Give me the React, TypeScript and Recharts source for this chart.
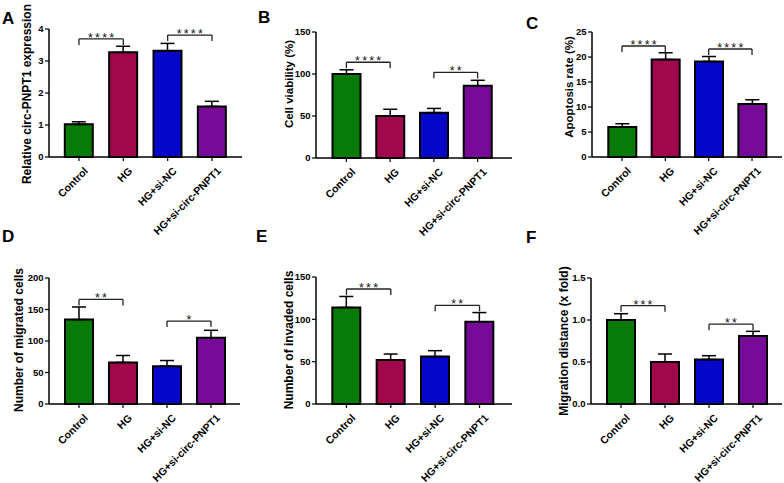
import React from 'react';
import { BarChart, Bar, XAxis, YAxis, ErrorBar, ReferenceLine, Cell } from 'recharts';

const groups = ['Control', 'HG', 'HG+si-NC', 'HG+si-circ-PNPT1'];
const barColors = ['#077a07', '#a1074b', '#0707c9', '#770a96'];

const expressionValues = [1.02, 3.27, 3.32, 1.58];
const expressionErrors = [0.08, 0.19, 0.23, 0.16];
const expressionTicks = [0, 1, 2, 3, 4];

const viabilityValues = [100, 50, 54, 86];
const viabilityErrors = [5, 8, 5, 6.5];
const viabilityTicks = [0, 50, 100, 150];

const apoptosisValues = [6.0, 19.5, 19.1, 10.6];
const apoptosisErrors = [0.65, 1.35, 1.0, 0.85];
const apoptosisTicks = [0, 5, 10, 15, 20, 25];

const migratedValues = [134, 66, 60, 105];
const migratedErrors = [20, 11, 9, 12];
const migratedTicks = [0, 50, 100, 150, 200];

const invadedValues = [114, 52, 56, 97];
const invadedErrors = [13, 7, 7, 11];
const invadedTicks = [0, 50, 100, 150];

const distanceValues = [1.0, 0.5, 0.53, 0.81];
const distanceErrors = [0.075, 0.095, 0.045, 0.055];
const distanceTicks = [0, 0.5, 1.0, 1.5];

const expressionBrackets = [
  { from: 'Control', to: 'HG', y: 3.69, stars: '****' },
  { from: 'HG+si-NC', to: 'HG+si-circ-PNPT1', y: 3.81, stars: '****' },
];
const viabilityBrackets = [
  { from: 'Control', to: 'HG', y: 114, stars: '****' },
  { from: 'HG+si-NC', to: 'HG+si-circ-PNPT1', y: 102, stars: '**' },
];
const apoptosisBrackets = [
  { from: 'Control', to: 'HG', y: 22.2, stars: '****' },
  { from: 'HG+si-NC', to: 'HG+si-circ-PNPT1', y: 21.6, stars: '****' },
];
const migratedBrackets = [
  { from: 'Control', to: 'HG', y: 166, stars: '**' },
  { from: 'HG+si-NC', to: 'HG+si-circ-PNPT1', y: 131.6, stars: '*' },
];
const invadedBrackets = [
  { from: 'Control', to: 'HG', y: 135.8, stars: '***' },
  { from: 'HG+si-NC', to: 'HG+si-circ-PNPT1', y: 116.5, stars: '**' },
];
const distanceBrackets = [
  { from: 'Control', to: 'HG', y: 1.17, stars: '***' },
  { from: 'HG+si-NC', to: 'HG+si-circ-PNPT1', y: 0.95, stars: '**' },
];

const FONT = '"Liberation Sans", Arial, Helvetica, sans-serif';

type Layout = {
  x0: number; y0: number; w: number; h: number;
  axisX: number; top: number; bottom: number; right: number;
  lp: number; rp: number;
  labelX: number; labelY: number; labelSize: number;
  letter: string; letterX: number; letterY: number;
};

const layouts: Layout[] = [
  { x0: 0, y0: 0, w: 262, h: 240, axisX: 49, top: 29, bottom: 157, right: 242, lp: 7.8, rp: 7.8, labelX: 27, labelY: 94, labelSize: 12, letter: 'A', letterX: 2, letterY: 10 },
  { x0: 262, y0: 0, w: 262, h: 240, axisX: 316, top: 32, bottom: 158, right: 512, lp: 8.5, rp: 12.5, labelX: 289, labelY: 84, labelSize: 11.5, letter: 'B', letterX: 258, letterY: 9 },
  { x0: 524, y0: 0, w: 260, h: 240, axisX: 592, top: 32, bottom: 157, right: 782, lp: 8.3, rp: 8.3, labelX: 569, labelY: 87, labelSize: 11.5, letter: 'C', letterX: 526, letterY: 15 },
  { x0: 0, y0: 240, w: 262, h: 243, axisX: 49, top: 278, bottom: 404, right: 240, lp: 8, rp: 7, labelX: 19, labelY: 340, labelSize: 12, letter: 'D', letterX: 2, letterY: 228 },
  { x0: 262, y0: 240, w: 262, h: 243, axisX: 316, top: 277, bottom: 404, right: 512, lp: 8.3, rp: 10.3, labelX: 289, labelY: 340, labelSize: 12, letter: 'E', letterX: 256, letterY: 228 },
  { x0: 524, y0: 240, w: 260, h: 243, axisX: 591, top: 278, bottom: 404, right: 782, lp: 8, rp: 7, labelX: 564, labelY: 341, labelSize: 12, letter: 'F', letterX: 526, letterY: 229 },
];

const XTick = (props: any) => {
  const { x, y, payload } = props;
  const tx = x + 4;
  const ty = y + 3;
  return (
    <text
      x={tx}
      y={ty}
      transform={`rotate(-45 ${tx} ${ty})`}
      textAnchor="end"
      dominantBaseline="hanging"
      fontSize={10.5}
      fontWeight="bold"
      fontFamily={FONT}
      fill="#000"
    >
      {payload.value}
    </text>
  );
};

type PanelProps = {
  layout: Layout;
  values: number[];
  errors: number[];
  ticks: number[];
  brackets: { from: string; to: string; y: number; stars: string }[];
  yLabel: string;
  decimals: number;
};

function Panel({ layout, values, errors, ticks, brackets, yLabel, decimals }: PanelProps) {
  const data = groups.map((g, i) => ({ name: g, value: values[i], err: [0, errors[i]] }));
  const L = layout;
  const plotTop = L.top - L.y0;
  const plotBottom = L.bottom - L.y0;
  const yw = L.axisX - L.x0;
  const rightMargin = L.x0 + L.w - L.right;
  const xh = L.h - plotBottom;
  const yMax = ticks[ticks.length - 1];
  const drop = (yMax * 6) / (plotBottom - plotTop);
  const lx = L.labelX - L.x0;
  const ly = L.labelY - L.y0;

  const starLabel = (stars: string) => (p: any) => {
    const vb = p.viewBox || {};
    const cx = (vb.x || 0) + (vb.width || 0) / 2;
    const cy = vb.y || 0;
    return (
      <text x={cx + 1} y={cy + 3} textAnchor="middle" fontSize={12.5} fontFamily={FONT} letterSpacing={2.2} fill="#111" stroke="none">
        {stars}
      </text>
    );
  };

  return (
    <div style={{ position: 'absolute', left: L.x0, top: L.y0, width: L.w, height: L.h }}>
      <BarChart
        width={L.w}
        height={L.h}
        data={data}
        margin={{ top: plotTop, right: rightMargin, bottom: 0, left: 0 }}
        barSize={28}
        style={{ overflow: 'visible' }}
      >
        <XAxis
          dataKey="name"
          height={xh}
          padding={{ left: L.lp, right: L.rp }}
          axisLine={{ stroke: '#000', strokeWidth: 1.5 }}
          tickLine={{ stroke: '#000', strokeWidth: 1.2 }}
          tickSize={4}
          interval={0}
          tick={<XTick />}
        />
        <YAxis
          width={yw}
          domain={[0, yMax]}
          ticks={ticks}
          interval={0}
          axisLine={{ stroke: '#000', strokeWidth: 1.5 }}
          tickLine={{ stroke: '#000', strokeWidth: 1.2 }}
          tickSize={4}
          tickMargin={1.5}
          tickFormatter={(v: number) => v.toFixed(decimals)}
          tick={{ fontSize: 9.5, fontWeight: 'bold', fontFamily: FONT, fill: '#000' }}
          label={{
            content: () => (
              <text
                x={lx}
                y={ly}
                transform={`rotate(-90 ${lx} ${ly})`}
                textAnchor="middle"
                dominantBaseline="central"
                fontSize={L.labelSize}
                fontWeight="bold"
                fontFamily={FONT}
                fill="#000"
              >
                {yLabel}
              </text>
            ),
          }}
        />
        <Bar dataKey="value" isAnimationActive={false} stroke="#000" strokeWidth={2}>
          {data.map((d, i) => (
            <Cell key={d.name} fill={barColors[i]} />
          ))}
          <ErrorBar dataKey="err" width={7} stroke="#000" strokeWidth={1.5} direction="y" />
        </Bar>
        {brackets.map((b, i) => (
          <ReferenceLine
            key={`h${i}`}
            segment={[{ x: b.from, y: b.y }, { x: b.to, y: b.y }]}
            stroke="#222"
            strokeWidth={1.3}
            label={starLabel(b.stars)}
          />
        ))}
        {brackets.map((b, i) => (
          <ReferenceLine
            key={`l${i}`}
            segment={[{ x: b.from, y: b.y }, { x: b.from, y: b.y - drop }]}
            stroke="#222"
            strokeWidth={1.3}
          />
        ))}
        {brackets.map((b, i) => (
          <ReferenceLine
            key={`r${i}`}
            segment={[{ x: b.to, y: b.y }, { x: b.to, y: b.y - drop }]}
            stroke="#222"
            strokeWidth={1.3}
          />
        ))}
      </BarChart>
      <div
        style={{
          position: 'absolute',
          left: L.letterX - L.x0,
          top: L.letterY - L.y0,
          fontFamily: FONT,
          fontWeight: 'bold',
          fontSize: 17,
          lineHeight: '17px',
          color: '#000',
        }}
      >
        {L.letter}
      </div>
    </div>
  );
}

export default function App() {
  return (
    <div style={{ position: 'absolute', left: 0, top: 0, width: 784, height: 483, background: '#fff', overflow: 'hidden' }}>
      <Panel layout={layouts[0]} values={expressionValues} errors={expressionErrors} ticks={expressionTicks} brackets={expressionBrackets} yLabel="Relative circ-PNPT1 expression" decimals={0} />
      <Panel layout={layouts[1]} values={viabilityValues} errors={viabilityErrors} ticks={viabilityTicks} brackets={viabilityBrackets} yLabel="Cell viability (%)" decimals={0} />
      <Panel layout={layouts[2]} values={apoptosisValues} errors={apoptosisErrors} ticks={apoptosisTicks} brackets={apoptosisBrackets} yLabel="Apoptosis rate (%)" decimals={0} />
      <Panel layout={layouts[3]} values={migratedValues} errors={migratedErrors} ticks={migratedTicks} brackets={migratedBrackets} yLabel="Number of migrated cells" decimals={0} />
      <Panel layout={layouts[4]} values={invadedValues} errors={invadedErrors} ticks={invadedTicks} brackets={invadedBrackets} yLabel="Number of invaded cells" decimals={0} />
      <Panel layout={layouts[5]} values={distanceValues} errors={distanceErrors} ticks={distanceTicks} brackets={distanceBrackets} yLabel="Migration distance (x fold)" decimals={1} />
    </div>
  );
}
